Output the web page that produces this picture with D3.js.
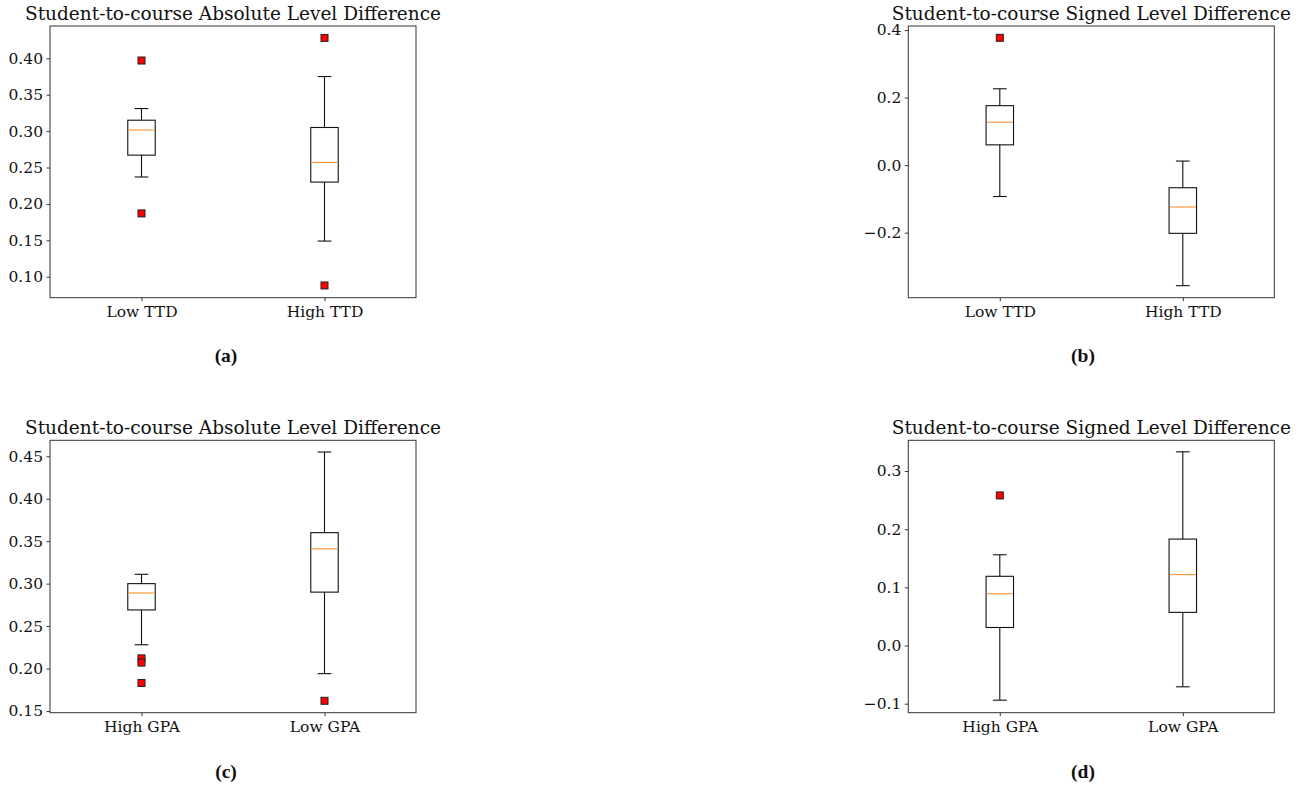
<!DOCTYPE html>
<html><head><meta charset="utf-8">
<script src="https://cdn.jsdelivr.net/npm/d3@7"></script>
<style>body{margin:0;background:#fff}svg{display:block}</style>
</head><body>
<svg id="c" width="1303" height="787"></svg>
<script>
// ---- data ----
const titleAbs = "Student-to-course Absolute Level Difference";
const titleSig = "Student-to-course Signed Level Difference";
const catsTTD = ["Low TTD", "High TTD"];
const catsGPA = ["High GPA", "Low GPA"];

// panel (a)
const aWhiskLo = [0.237, 0.149];
const aQ1      = [0.267, 0.230];
const aMedian  = [0.3015, 0.257];
const aQ3      = [0.315, 0.305];
const aWhiskHi = [0.331, 0.375];
const aOutliers = [[0.397, 0.187], [0.428, 0.088]];
const aTicks = [0.10, 0.15, 0.20, 0.25, 0.30, 0.35, 0.40];

// panel (b)
const bWhiskLo = [-0.093, -0.357];
const bQ1      = [0.060, -0.202];
const bMedian  = [0.127, -0.124];
const bQ3      = [0.176, -0.067];
const bWhiskHi = [0.226, 0.012];
const bOutliers = [[0.377], []];
const bTicks = [-0.2, 0.0, 0.2, 0.4];

// panel (c)
const cWhiskLo = [0.228, 0.194];
const cQ1      = [0.269, 0.290];
const cMedian  = [0.289, 0.341];
const cQ3      = [0.300, 0.360];
const cWhiskHi = [0.311, 0.455];
const cOutliers = [[0.212, 0.207, 0.183], [0.162]];
const cTicks = [0.15, 0.20, 0.25, 0.30, 0.35, 0.40, 0.45];

// panel (d)
const dWhiskLo = [-0.094, -0.071];
const dQ1      = [0.031, 0.057];
const dMedian  = [0.089, 0.122];
const dQ3      = [0.119, 0.183];
const dWhiskHi = [0.156, 0.333];
const dOutliers = [[0.258], []];
const dTicks = [-0.1, 0.0, 0.1, 0.2, 0.3];

const captions = ["(a)", "(b)", "(c)", "(d)"];

// ---- layout ----
const panels = [
  {title: titleAbs, cats: catsTTD, lo: aWhiskLo, q1: aQ1, med: aMedian, q3: aQ3, hi: aWhiskHi, out: aOutliers,
   ticks: aTicks, fmt: ".2f", dom: [0.0712, 0.4444], x0: 50, x1: 416, y0: 26, y1: 297.7, cap: captions[0], capX: 226, capY: 362},
  {title: titleSig, cats: catsTTD, lo: bWhiskLo, q1: bQ1, med: bMedian, q3: bQ3, hi: bWhiskHi, out: bOutliers,
   ticks: bTicks, fmt: ".1f", dom: [-0.3926, 0.4119], x0: 908.3, x1: 1274.3, y0: 26, y1: 297.7, cap: captions[1], capX: 1083, capY: 362},
  {title: titleAbs, cats: catsGPA, lo: cWhiskLo, q1: cQ1, med: cMedian, q3: cQ3, hi: cWhiskHi, out: cOutliers,
   ticks: cTicks, fmt: ".2f", dom: [0.148, 0.4688], x0: 50, x1: 416, y0: 440.3, y1: 712.7, cap: captions[2], capX: 226, capY: 778},
  {title: titleSig, cats: catsGPA, lo: dWhiskLo, q1: dQ1, med: dMedian, q3: dQ3, hi: dWhiskHi, out: dOutliers,
   ticks: dTicks, fmt: ".1f", dom: [-0.1155, 0.3528], x0: 908.3, x1: 1274.3, y0: 440.3, y1: 712.7, cap: captions[3], capX: 1083, capY: 778}
];

const svg = d3.select("#c");
const FONT = "DejaVu Serif";

panels.forEach(p => {
  const x = d3.scaleLinear().domain([0.5, 2.5]).range([p.x0, p.x1]);
  const y = d3.scaleLinear().domain(p.dom).range([p.y1, p.y0]);
  const g = svg.append("g");
  const fmt = d3.format(p.fmt);

  // y axis
  const ya = g.append("g").attr("transform", `translate(${p.x0},0)`)
    .call(d3.axisLeft(y).tickValues(p.ticks).tickSize(3.5).tickPadding(3.5)
      .tickFormat(v => fmt(v).replace("-", "\u2212")));
  // x axis
  const xa = g.append("g").attr("transform", `translate(0,${p.y1})`)
    .call(d3.axisBottom(x).tickValues([1, 2]).tickSize(3.5).tickPadding(5)
      .tickFormat((v, i) => p.cats[i]));
  [ya, xa].forEach(a => {
    a.select(".domain").remove();
    a.selectAll("line").attr("stroke", "#222").attr("stroke-width", 0.9);
    a.selectAll("text").attr("font-family", FONT).attr("font-size", 15.5).attr("fill", "#111");
  });

  // frame
  g.append("rect").attr("x", p.x0).attr("y", p.y0).attr("width", p.x1 - p.x0).attr("height", p.y1 - p.y0)
    .attr("fill", "none").attr("stroke", "#333").attr("stroke-width", 1);

  // title
  g.append("text").attr("x", (p.x0 + p.x1) / 2).attr("y", p.y0 - 6.5).attr("text-anchor", "middle")
    .attr("font-family", FONT).attr("font-size", 18.5).attr("fill", "#111").text(p.title);

  const boxW = x(1.075) - x(0.925);
  const capW = x(1.0375) - x(0.9625);
  p.cats.forEach((c, i) => {
    const cx = x(i + 1);
    const bg = g.append("g").attr("stroke", "#111").attr("stroke-width", 1.1).attr("fill", "none");
    // whiskers
    bg.append("line").attr("x1", cx).attr("x2", cx).attr("y1", y(p.q3[i])).attr("y2", y(p.hi[i]));
    bg.append("line").attr("x1", cx).attr("x2", cx).attr("y1", y(p.q1[i])).attr("y2", y(p.lo[i]));
    bg.append("line").attr("x1", cx - capW / 2).attr("x2", cx + capW / 2).attr("y1", y(p.hi[i])).attr("y2", y(p.hi[i]));
    bg.append("line").attr("x1", cx - capW / 2).attr("x2", cx + capW / 2).attr("y1", y(p.lo[i])).attr("y2", y(p.lo[i]));
    // box
    bg.append("rect").attr("x", cx - boxW / 2).attr("y", y(p.q3[i])).attr("width", boxW)
      .attr("height", y(p.q1[i]) - y(p.q3[i]));
    // median
    g.append("line").attr("x1", cx - boxW / 2 + 0.6).attr("x2", cx + boxW / 2 - 0.6)
      .attr("y1", y(p.med[i])).attr("y2", y(p.med[i])).attr("stroke", "#ff9a40").attr("stroke-width", 1.2);
    // outliers
    g.selectAll(null).data(p.out[i]).enter().append("rect")
      .attr("x", cx - 3.5).attr("y", d => y(d) - 3.5).attr("width", 7).attr("height", 7)
      .attr("fill", "#ff0000").attr("stroke", "#222").attr("stroke-width", 1);
  });

  // caption
  svg.append("text").attr("x", p.capX).attr("y", p.capY).attr("text-anchor", "middle")
    .attr("font-family", "Liberation Serif").attr("font-weight", "bold").attr("font-size", 19.5)
    .attr("fill", "#111").text(p.cap);
});
</script>
</body></html>
